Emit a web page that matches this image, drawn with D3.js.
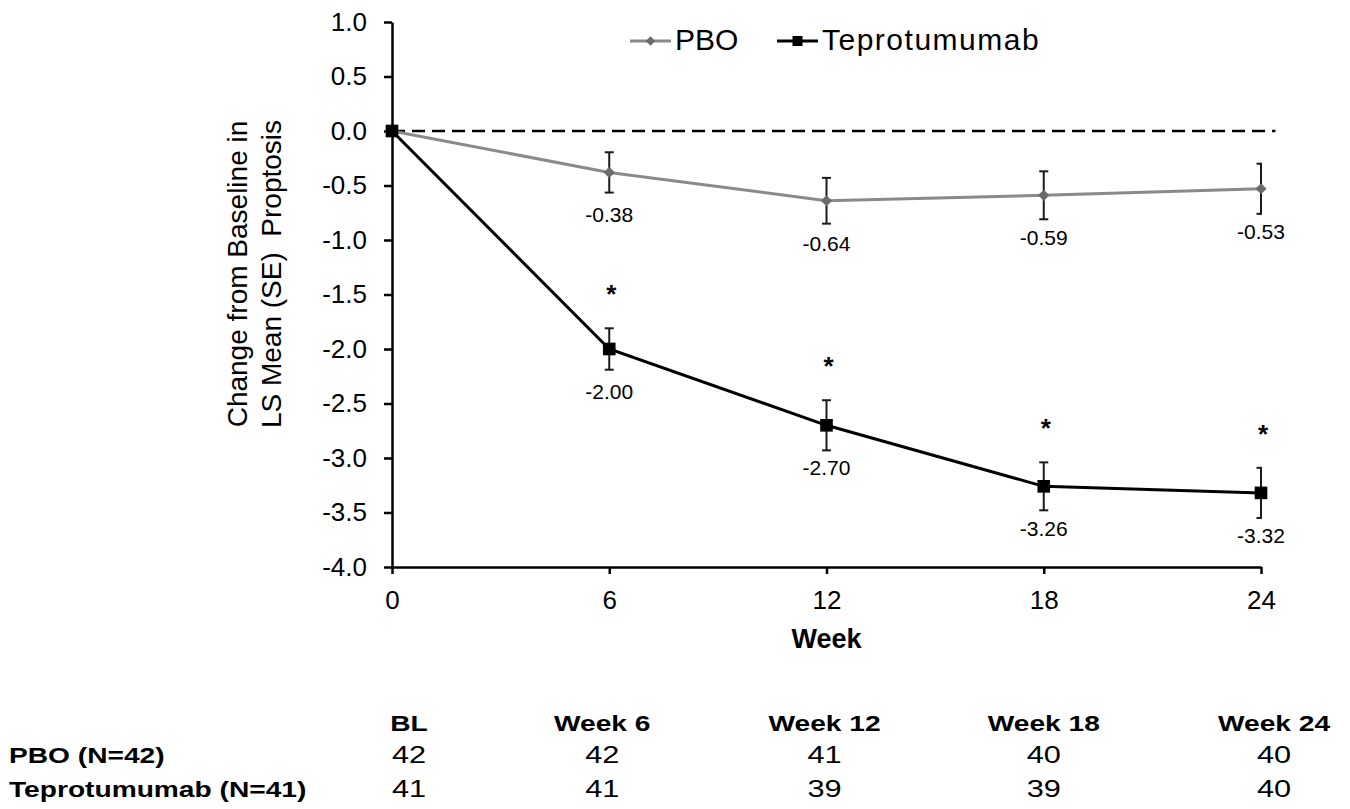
<!DOCTYPE html>
<html>
<head>
<meta charset="utf-8">
<script src="https://cdn.jsdelivr.net/npm/d3@7/dist/d3.min.js"></script>
<style>
  html, body { margin: 0; padding: 0; background: #fff; }
  svg { display: block; font-family: "Liberation Sans", Arial, sans-serif; }
</style>
</head>
<body>
<svg id="chart" width="1350" height="809"></svg>
<script>
// ---------------- data ----------------
const weeks = [0, 6, 12, 18, 24];
const pboMean = [0, -0.38, -0.64, -0.59, -0.53];
const pboSE   = [0, 0.185, 0.21, 0.22, 0.23];
const tepMean = [0, -2.00, -2.70, -3.26, -3.32];
const tepSE   = [0, 0.19, 0.23, 0.22, 0.23];
const tepSignificant = [false, true, true, true, true];
const yTickValues = [1.0, 0.5, 0.0, -0.5, -1.0, -1.5, -2.0, -2.5, -3.0, -3.5, -4.0];
const seriesNames = ["PBO", "Teprotumumab"];
const tableHeaders = ["BL", "Week 6", "Week 12", "Week 18", "Week 24"];
const tableRowLabels = ["PBO (N=42)", "Teprotumumab (N=41)"];
const pboN = [42, 42, 41, 40, 40];
const tepN = [41, 41, 39, 39, 40];

// ---------------- layout ----------------
const svg = d3.select("#chart");
const x = d3.scaleLinear().domain([0, 24]).range([392, 1261]);
const y = d3.scaleLinear().domain([-4, 1]).range([567, 22]);

const series = [
  { name: seriesNames[0], mean: pboMean, se: pboSE, line: "#8a8a8a", marker: "#6b6b6b",
    symbol: d3.symbolDiamond2, size: 80, legendSize: 55, spacing: 0 },
  { name: seriesNames[1], mean: tepMean, se: tepSE, line: "#000", marker: "#000",
    symbol: d3.symbolSquare, size: 160, legendSize: 100, spacing: 1.5 }
];

// clip for error bars (plot area right edge)
svg.append("defs").append("clipPath").attr("id", "plotclip")
  .append("rect").attr("x", x(0) - 20).attr("y", 0)
  .attr("width", x(24) - x(0) + 21).attr("height", 809);

// axes
const yAxis = d3.axisLeft(y).tickValues(yTickValues).tickSize(8).tickSizeOuter(0)
  .tickPadding(17).tickFormat(d => d.toFixed(1));
const gy = svg.append("g").attr("transform", `translate(${x(0)},0)`).call(yAxis);
gy.selectAll("text").attr("font-size", 26).attr("fill", "#000")
  .attr("font-family", "Liberation Sans, Arial, sans-serif");

const xAxis = d3.axisBottom(x).tickValues(weeks).tickSize(7).tickSizeOuter(0)
  .tickPadding(17).tickFormat(d => String(d));
const gx = svg.append("g").attr("transform", `translate(0,${y(-4)})`).call(xAxis);
gx.selectAll("text").attr("font-size", 26).attr("fill", "#000")
  .attr("font-family", "Liberation Sans, Arial, sans-serif");

[gx, gy].forEach(g => {
  g.select(".domain").attr("stroke", "#000").attr("stroke-width", 2.5);
  g.selectAll(".tick line").attr("stroke", "#000").attr("stroke-width", 2.5);
});

// zero reference dashed line
svg.append("line")
  .attr("x1", x(0)).attr("x2", x(24.4))
  .attr("y1", y(0)).attr("y2", y(0))
  .attr("stroke", "#000").attr("stroke-width", 2.5)
  .attr("stroke-dasharray", "13,7");

// lines
const lineGen = d3.line().x((d, i) => x(weeks[i])).y(d => y(d));
series.forEach(s => {
  svg.append("path").datum(s.mean)
    .attr("d", lineGen).attr("fill", "none")
    .attr("stroke", s.line).attr("stroke-width", 3);
});

// error bars
const eb = svg.append("g").attr("clip-path", "url(#plotclip)");
series.forEach(s => {
  weeks.forEach((w, i) => {
    if (s.se[i] <= 0) return;
    const cx = x(w), top = y(s.mean[i] + s.se[i]), bot = y(s.mean[i] - s.se[i]);
    eb.append("line").attr("x1", cx).attr("x2", cx).attr("y1", top).attr("y2", bot)
      .attr("stroke", "#1a1a1a").attr("stroke-width", 2);
    [top, bot].forEach(yy => {
      eb.append("line").attr("x1", cx - 4.5).attr("x2", cx + 4.5).attr("y1", yy).attr("y2", yy)
        .attr("stroke", "#1a1a1a").attr("stroke-width", 2);
    });
  });
});

// markers
series.forEach(s => {
  svg.append("g").selectAll("path").data(s.mean).join("path")
    .attr("d", d3.symbol().type(s.symbol).size(s.size))
    .attr("transform", (d, i) => `translate(${x(weeks[i])},${y(d)})`)
    .attr("fill", s.marker);
});

// data labels (below markers)
series.forEach(s => {
  svg.append("g").selectAll("text").data(s.mean.slice(1)).join("text")
    .attr("x", (d, i) => x(weeks[i + 1]))
    .attr("y", d => y(d) + 50)
    .attr("text-anchor", "middle")
    .attr("font-size", 21).attr("fill", "#000")
    .text(d => d.toFixed(2));
});

// significance asterisks
const sigIdx = weeks.map((w, i) => i).filter(i => tepSignificant[i]);
svg.append("g").selectAll("text").data(sigIdx).join("text")
  .attr("x", i => x(weeks[i]) + 2)
  .attr("y", i => y(tepMean[i] + tepSE[i]) - 25)
  .attr("text-anchor", "middle")
  .attr("font-size", 26).attr("font-weight", "bold").attr("fill", "#000")
  .text("*");

// axis titles
svg.append("text").attr("x", x(12)).attr("y", 648)
  .attr("text-anchor", "middle").attr("font-size", 27).attr("font-weight", "bold")
  .text("Week");

const yt = svg.append("text").attr("transform", "translate(0,274) rotate(-90)")
  .attr("text-anchor", "middle").attr("font-size", 28);
yt.append("tspan").attr("x", 0).attr("y", 247).text("Change from Baseline in");
yt.append("tspan").attr("x", 0).attr("y", 281).text("LS Mean (SE)\u00A0\u00A0Proptosis");

// legend
const legendItems = [
  { s: series[0], x0: 630, text: 675 },
  { s: series[1], x0: 777, text: 822 }
];
legendItems.forEach(li => {
  const g = svg.append("g");
  g.append("line").attr("x1", li.x0).attr("x2", li.x0 + 41).attr("y1", 41).attr("y2", 41)
    .attr("stroke", li.s.line).attr("stroke-width", 3);
  g.append("path").attr("d", d3.symbol().type(li.s.symbol).size(li.s.legendSize))
    .attr("transform", `translate(${li.x0 + 20.5},41)`).attr("fill", li.s.marker);
  g.append("text").attr("x", li.text).attr("y", 50).attr("font-size", 30)
    .attr("letter-spacing", li.s.spacing).text(li.s.name);
});

// at-risk table
const colOffset = [17, -7, -2, 0, 13];
const colX = weeks.map((w, i) => x(w) + colOffset[i]);
const stretch = 1.28;
const tbl = svg.append("g");
tableHeaders.forEach((h, i) => {
  tbl.append("text").attr("transform", `translate(${colX[i]},731) scale(${stretch},1)`)
    .attr("text-anchor", "middle").attr("font-size", 22).attr("font-weight", "bold").text(h);
});
[pboN, tepN].forEach((row, r) => {
  const by = r === 0 ? 763 : 797;
  tbl.append("text").attr("transform", `translate(9,${by}) scale(${stretch},1)`)
    .attr("font-size", 22).attr("font-weight", "bold").text(tableRowLabels[r]);
  row.forEach((n, i) => {
    tbl.append("text").attr("transform", `translate(${colX[i]},${by}) scale(${stretch},1)`)
      .attr("text-anchor", "middle").attr("font-size", 24).text(n);
  });
});
</script>
</body>
</html>
